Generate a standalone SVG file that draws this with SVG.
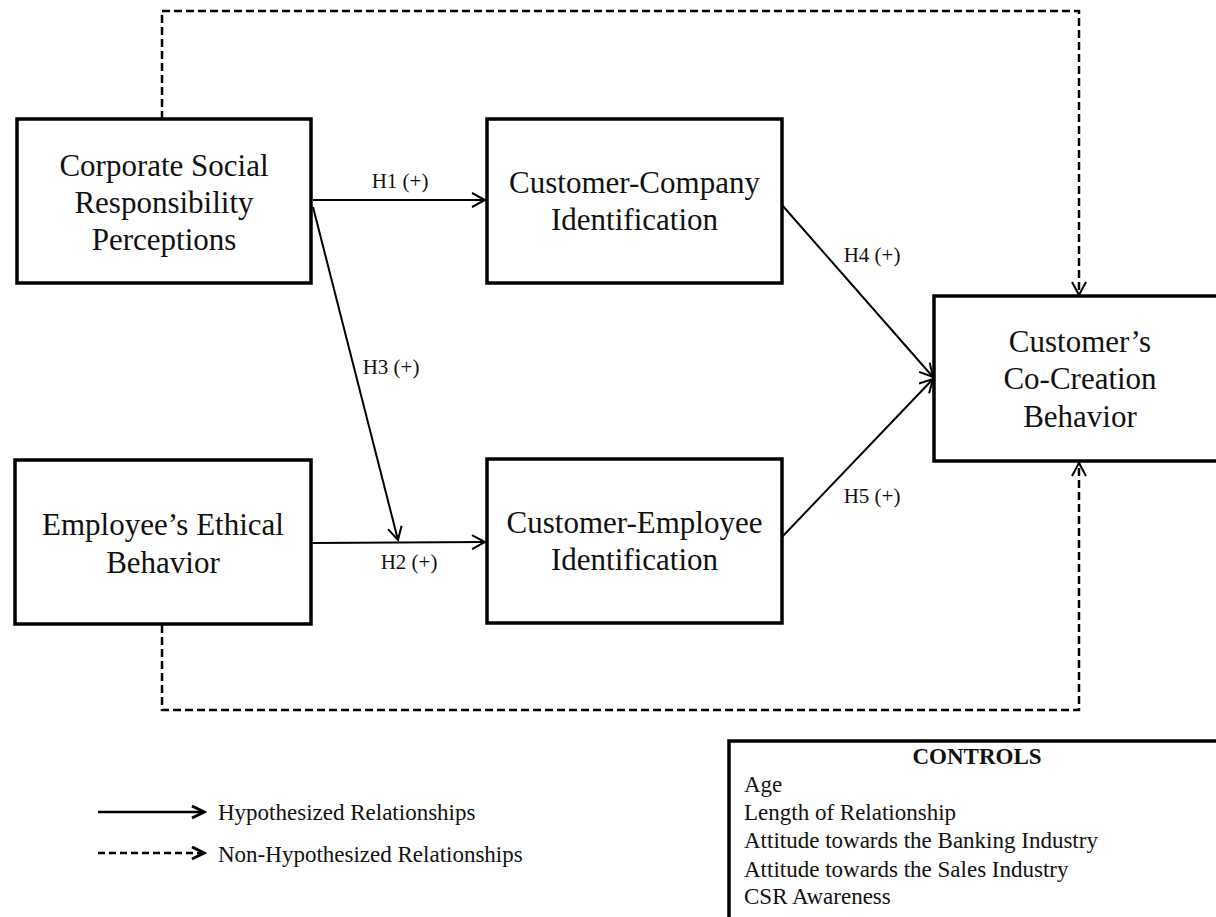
<svg xmlns="http://www.w3.org/2000/svg" width="1216" height="917" viewBox="0 0 1216 917">
<style>
.box{fill:#fff;stroke:#000;stroke-width:3.5}
.nt{font-family:"Liberation Serif","Times New Roman",serif;font-size:31px;fill:#111;text-anchor:middle}
.lb{font-family:"Liberation Serif","Times New Roman",serif;font-size:21px;fill:#111;text-anchor:middle}
.ct{font-family:"Liberation Serif","Times New Roman",serif;font-size:23px;fill:#111}
.solid{fill:none;stroke:#000;stroke-width:2;marker-end:url(#arr)}
.dash{fill:none;stroke:#000;stroke-width:2.5;stroke-dasharray:8 4;marker-end:url(#arr)}
</style>
<defs>
<marker id="arr" markerUnits="userSpaceOnUse" markerWidth="16" markerHeight="16" refX="13" refY="7" orient="auto" viewBox="-1 -1 16 16">
<path d="M0,0 L13,7 L0,14" fill="none" stroke="#000" stroke-width="2"/>
</marker>
<marker id="arrL" markerUnits="userSpaceOnUse" markerWidth="16" markerHeight="16" refX="12" refY="6" orient="auto" viewBox="-1 -1 16 16">
<path d="M0,0 L12,6 L0,12" fill="none" stroke="#000" stroke-width="3"/>
</marker>
</defs>
<rect width="1216" height="917" fill="#fff"/>
<g id="connectors">
<path class="solid" d="M313,200 L485,200"/>
<path class="solid" d="M313,207 L398,540"/>
<path class="solid" d="M312,543 L485,542"/>
<path class="solid" d="M782,205 L933,377"/>
<path class="solid" d="M782,537 L933,379"/>
<path class="dash" d="M162,119 V11 H1079 V295"/>
<path class="dash" d="M162,625 V710 H1079 V463"/>
<text class="lb" x="400" y="188">H1 (+)</text>
<text class="lb" x="391" y="374">H3 (+)</text>
<text class="lb" x="409" y="569">H2 (+)</text>
<text class="lb" x="872" y="262">H4 (+)</text>
<text class="lb" x="872" y="503">H5 (+)</text>
</g>
<g id="csr">
<rect class="box" x="17" y="119" width="294" height="164"/>
<text class="nt" x="164" y="176">Corporate Social</text>
<text class="nt" x="164" y="213">Responsibility</text>
<text class="nt" x="164" y="250">Perceptions</text>
</g>
<g id="cci">
<rect class="box" x="487" y="119" width="295" height="164"/>
<text class="nt" x="634.5" y="193">Customer-Company</text>
<text class="nt" x="634.5" y="230">Identification</text>
</g>
<g id="eeb">
<rect class="box" x="15" y="460" width="296" height="164"/>
<text class="nt" x="163" y="535">Employee’s Ethical</text>
<text class="nt" x="163" y="573">Behavior</text>
</g>
<g id="cei">
<rect class="box" x="487" y="459" width="295" height="164"/>
<text class="nt" x="634.5" y="533">Customer-Employee</text>
<text class="nt" x="634.5" y="570">Identification</text>
</g>
<g id="ccb">
<rect class="box" x="934" y="296" width="300" height="165"/>
<text class="nt" x="1080" y="352">Customer’s</text>
<text class="nt" x="1080" y="389">Co-Creation</text>
<text class="nt" x="1080" y="427">Behavior</text>
</g>
<g id="controls">
<rect class="box" x="729" y="741" width="510" height="200"/>
<text class="ct" x="977" y="764" text-anchor="middle" font-weight="bold">CONTROLS</text>
<text class="ct" x="744" y="792">Age</text>
<text class="ct" x="744" y="820">Length of Relationship</text>
<text class="ct" x="744" y="848">Attitude towards the Banking Industry</text>
<text class="ct" x="744" y="877">Attitude towards the Sales Industry</text>
<text class="ct" x="744" y="904">CSR Awareness</text>
</g>
<g id="legend">
<path d="M98,812 H204" fill="none" stroke="#000" stroke-width="2.5" marker-end="url(#arrL)"/>
<path d="M98,853 H204" fill="none" stroke="#000" stroke-width="2.5" stroke-dasharray="7 4" marker-end="url(#arrL)"/>
<text class="ct" x="218" y="820">Hypothesized Relationships</text>
<text class="ct" x="218" y="862">Non-Hypothesized Relationships</text>
</g>
</svg>
